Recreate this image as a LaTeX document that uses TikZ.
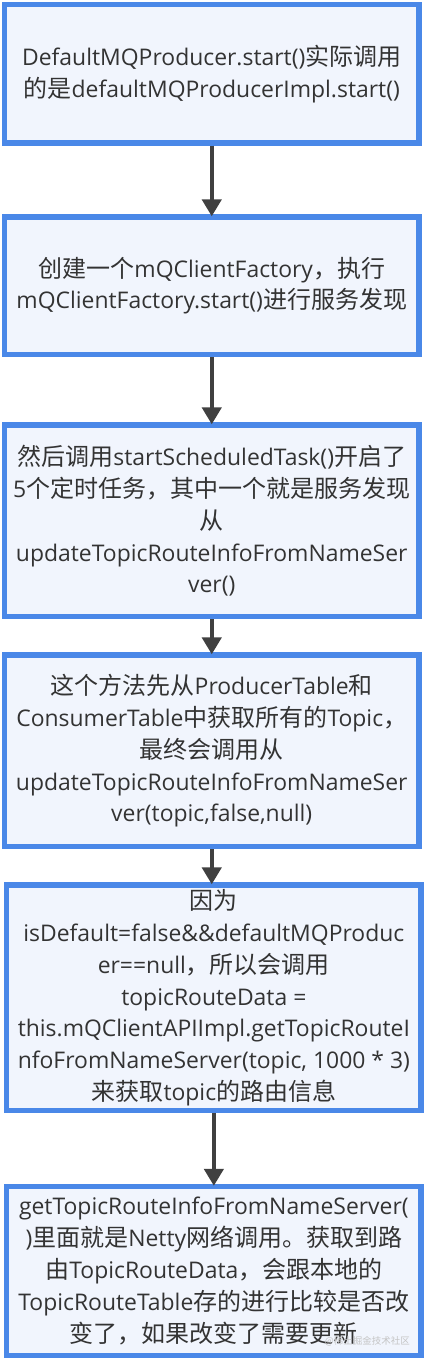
\documentclass[tikz,border=0pt]{standalone}
\usepackage{fontspec}
\setmainfont{Open Sans}[Scale=0.955]
\newfontfamily\cjkf{Noto Sans CJK SC}
\newcommand\zh[1]{{\cjkf #1}}
\usetikzlibrary{arrows.meta}
\definecolor{boxblue}{HTML}{4A88E8}
\definecolor{boxfill}{HTML}{F1F5FD}
\definecolor{arrowgray}{HTML}{404040}
\definecolor{txtgray}{HTML}{333333}
\definecolor{wmgray}{HTML}{C4C4C4}
\tikzset{
  stepbox/.style={draw=boxblue, fill=boxfill, line width=5.3pt, align=center,
    text=txtgray, font=\fontsize{24}{31.8}\selectfont, inner sep=0pt,
    minimum width=414.5pt},
  flowarrow/.style={draw=arrowgray, line width=4.5pt, shorten >=-2pt,
    -{Triangle[length=17pt,width=19pt]}},
  watermark/.style={text=wmgray, font=\fontsize{9.5}{11}\selectfont\cjkf, inner sep=0pt}
}
\begin{document}
\begin{tikzpicture}[x=1pt,y=-1pt]
\path[use as bounding box] (0,0) rectangle (424,1360);
\node[stepbox, minimum height=138.5pt] (b1) at (211.75,73.75)
  {DefaultMQProducer.start()\zh{实际调用}\\\zh{的是}defaultMQProducerImpl.start()};
\node[stepbox, minimum height=137.5pt] (b2) at (211.75,285.75)
  {\zh{创建一个}mQClientFactory\zh{，执行}\\mQClientFactory.start()\zh{进行服务发现}};
\node[stepbox, minimum height=191.7pt] (b3) at (211.75,520.85)
  {\zh{然后调用}startScheduledTask()\zh{开启了}\\5\zh{个定时任务，其中一个就是服务发现}\\\zh{从}\\updateTopicRouteInfoFromNameSer\\ver()};
\node[stepbox, minimum height=191.7pt] (b4) at (211.75,750.85)
  {\zh{这个方法先从}ProducerTable\zh{和}\\ConsumerTable\zh{中获取所有的}Topic\zh{，}\\\zh{最终会调用从}\\updateTopicRouteInfoFromNameSer\\ver(topic,false,null)};
\node[stepbox, minimum width=414.3pt, minimum height=225.7pt] (b5) at (213.85,997.85)
  {\zh{因为}\\isDefault=false\&\&defaultMQProduc\\er==null\zh{，所以会调用}\\topicRouteData =\\this.mQClientAPIImpl.getTopicRouteI\\nfoFromNameServer(topic, 1000 * 3)\\\zh{来获取}topic\zh{的路由信息}};
\node[stepbox, minimum width=414.3pt, minimum height=169pt] (b6) at (213.85,1271)
  {getTopicRouteInfoFromNameServer(\\)\zh{里面就是}Netty\zh{网络调用。获取到路}\\\zh{由}TopicRouteData\zh{，会跟本地的}\\TopicRouteTable\zh{存的进行比较是否改}\\\zh{变了，如果改变了需要更新}};
\node[watermark, anchor=east] (wm) at (410,1341) {@稀土掘金技术社区};
\draw[flowarrow] (b1.south) -- (b2.north);
\draw[flowarrow] (b2.south) -- (b3.north);
\draw[flowarrow] (b3.south) -- (b4.north);
\draw[flowarrow] (b4.south) -- (b4.south |- b5.north);
\draw[flowarrow] (b5.south) -- (b6.north);
\end{tikzpicture}
\end{document}
